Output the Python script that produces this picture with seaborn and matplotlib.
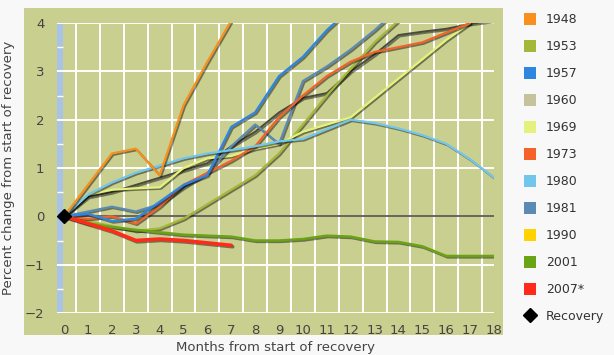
import seaborn as sns
import matplotlib.pyplot as plt
import matplotlib.patheffects as pe
from matplotlib.patches import Patch, Rectangle
from matplotlib.lines import Line2D

# Percent change from start of recovery, by month (month 0 = recovery)
y1948 = [0, 0.65, 1.3, 1.4, 0.85, 2.3, 3.2, 4.05]
y1953 = [0, -0.1, -0.2, -0.3, -0.25, -0.05, 0.25, 0.55, 0.85, 1.3, 1.9, 2.5, 3.05, 3.6, 4.05]
y1957 = [0, 0.05, -0.1, -0.05, 0.3, 0.65, 0.85, 1.85, 2.15, 2.9, 3.3, 3.85, 4.3]
y1960 = [0, 0.4, 0.5, 0.65, 0.8, 0.95, 1.1, 1.45, 1.75, 2.15, 2.45, 2.55, 3.0, 3.35, 3.75, 3.82, 3.88, 3.98, 4.05]
y1969 = [0, 0.45, 0.55, 0.58, 0.6, 1.0, 1.2, 1.25, 1.4, 1.5, 1.75, 1.9, 2.05, 2.45, 2.85, 3.25, 3.65, 4.0]
y1973 = [0, -0.05, 0.0, -0.15, 0.2, 0.65, 0.9, 1.15, 1.45, 2.05, 2.5, 2.9, 3.2, 3.4, 3.5, 3.6, 3.8, 4.0]
y1980 = [0, 0.45, 0.7, 0.9, 1.05, 1.2, 1.3, 1.37, 1.45, 1.55, 1.6, 1.8, 2.0, 1.93, 1.82, 1.68, 1.5, 1.18, 0.8]
y1981 = [0, 0.1, 0.2, 0.1, 0.25, 0.6, 0.9, 1.45, 1.9, 1.5, 2.8, 3.1, 3.45, 3.85, 4.3]
y2001 = [0, -0.15, -0.22, -0.28, -0.33, -0.38, -0.4, -0.42, -0.5, -0.5, -0.47, -0.4, -0.42,
         -0.52, -0.53, -0.62, -0.82, -0.82, -0.82]
y2007 = [0, -0.15, -0.3, -0.5, -0.47, -0.5, -0.55, -0.6]

years = ['1948', '1953', '1957', '1960', '1969', '1973', '1980', '1981', '1990', '2001', '2007*']
legend_colors = ['#f7901e', '#a3b83a', '#2e86de', '#c5c29c', '#e4f27d', '#f4622a',
                 '#72c6ec', '#5b8ab5', '#ffd200', '#6aa315', '#ff2a1a']
x_ticks = list(range(19))
y_ticks = [-2, -1, 0, 1, 2, 3, 4]

# series drawn (1990 has no line in the chart), in drawing order
series = [
    ('1960', y1960, '#4a4a3c', 1.4),
    ('1953', y1953, '#a3b83a', 1.6),
    ('1969', y1969, '#e4f27d', 1.6),
    ('1981', y1981, '#5b8ab5', 1.6),
    ('1973', y1973, '#f4622a', 1.6),
    ('1957', y1957, '#2e86de', 1.7),
    ('1980', y1980, '#72c6ec', 1.6),
    ('1948', y1948, '#f7901e', 1.6),
    ('2001', y2001, '#6aa315', 1.8),
    ('2007*', y2007, '#ff2a1a', 2.6),
]

sns.set_style("white")
plt.rcParams['font.family'] = ['DejaVu Sans']

fig = plt.figure(figsize=(6.14, 3.55), dpi=100, facecolor='#f8f8f8')
# olive panel behind the chart
fig.patches.append(Rectangle((0.039, 0.056), 0.780, 0.921, transform=fig.transFigure,
                             facecolor='#c9cf8f', edgecolor='none', zorder=-1))
ax = fig.add_axes([0.0928, 0.1183, 0.7117, 0.8169])
ax.set_zorder(1)
ax.set_facecolor('none')

# light blue vertical axis bar
ax.axvspan(-0.3, -0.05, color='#a9c3e6', zorder=0.2, lw=0)
ax.hlines([-1.5, -0.5, 0.5, 1.5, 2.5, 3.5], -0.3, -0.05, color='white', lw=1, zorder=0.3)

shadow = [pe.SimpleLineShadow(offset=(1.0, -1.0), shadow_color='black', alpha=0.45), pe.Normal()]

ax.hlines(0, 0, 18, color='#5a5a52', lw=1.3, zorder=1.5)

for i, (name, vals, col, lw) in enumerate(series):
    sns.lineplot(x=x_ticks[:len(vals)], y=vals, color=col, linewidth=lw, ax=ax, zorder=2 + i)
    ax.lines[-1].set_path_effects(shadow)
    ax.lines[-1].set_solid_capstyle('round')

ax.plot([0], [0], marker='D', color='black', markersize=7, zorder=20, ls='none')

ax.set_xlim(-0.3, 18)
ax.set_ylim(-2, 4)
ax.set_xticks(x_ticks)
ax.set_xticks([t + 0.5 for t in x_ticks[:-1]], minor=True)
ax.set_yticks(y_ticks)
ax.grid(False)
ax.grid(which='minor', axis='x', color='white', lw=1.4)
ax.grid(which='major', axis='y', color='white', lw=1.4)
ax.set_axisbelow(True)
for s in ax.spines.values():
    s.set_visible(False)
ax.tick_params(axis='both', which='both', length=0, labelsize=9.5, labelcolor='#444444')
ax.tick_params(axis='x', pad=8)
ax.tick_params(axis='y', pad=9)
ax.set_xlabel('Months from start of recovery', fontsize=9.5, color='#444444', labelpad=3)
ax.set_ylabel('Percent change from start of recovery', fontsize=9.5, color='#444444', labelpad=7)

handles = [Patch(facecolor=c, edgecolor='none') for c in legend_colors]
handles.append(Line2D([0], [0], marker='D', color='black', ls='none', markersize=7))
labels = years + ['Recovery']
fig.legend(handles, labels, loc='upper left', bbox_to_anchor=(0.843, 0.98), frameon=False,
           fontsize=9, handlelength=1.0, handleheight=1.0, handletextpad=0.75,
           labelspacing=1.12, labelcolor='#333333', borderpad=0)

plt.savefig('out.png', dpi=100, facecolor=fig.get_facecolor())
